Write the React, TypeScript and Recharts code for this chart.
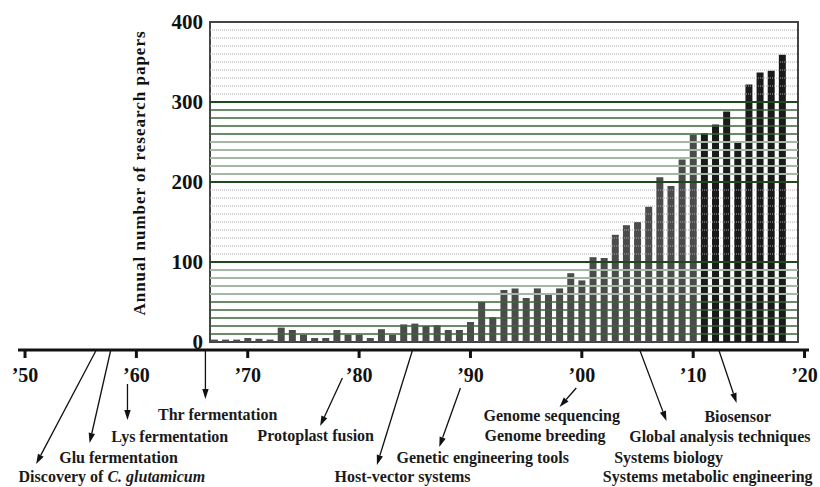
import {
  ComposedChart,
  Bar,
  Cell,
  XAxis,
  YAxis,
  ReferenceLine,
  ReferenceArea,
  ReferenceDot,
} from "recharts";

// publication years and annual number of papers
const years = [
  1967, 1968, 1969, 1970, 1971, 1972, 1973, 1974, 1975, 1976,
  1977, 1978, 1979, 1980, 1981, 1982, 1983, 1984, 1985, 1986,
  1987, 1988, 1989, 1990, 1991, 1992, 1993, 1994, 1995, 1996,
  1997, 1998, 1999, 2000, 2001, 2002, 2003, 2004, 2005, 2006,
  2007, 2008, 2009, 2010, 2011, 2012, 2013, 2014, 2015, 2016,
  2017, 2018,
];
const papers = [
  3, 3, 3, 5, 4, 3, 18, 15, 9, 5,
  5, 15, 9, 9, 5, 16, 9, 22, 23, 20,
  21, 15, 15, 25, 50, 31, 65, 67, 55, 67,
  59, 67, 86, 77, 106, 105, 134, 146, 150, 169,
  206, 195, 228, 259, 261, 272, 288, 251, 322, 337,
  339, 359,
];

const yTicks = [0, 100, 200, 300, 400];
const timelineTicks = [1950, 1960, 1970, 1980, 1990, 2000, 2010, 2020];

const majorGrid = [100, 200, 300];
const darkGrid = [10, 20, 30, 40, 50, 260, 270, 280, 290];
const paleGrid = [60, 70, 80, 90, 210, 220, 230, 240, 250];
const dottedGrid = [
  110, 120, 130, 140, 150, 160, 170, 180, 190,
  310, 320, 330, 340, 350, 360, 370, 380, 390,
];

// milestones: label position (year, depth below the time axis)
const milestones = [
  { parts: [{ t: "Discovery of " }, { t: "C. glutamicum", it: true }], x: 1957.8, y: 126.5 },
  { parts: [{ t: "Glu fermentation" }], x: 1958.4, y: 107 },
  { parts: [{ t: "Lys fermentation" }], x: 1963.0, y: 86 },
  { parts: [{ t: "Thr fermentation" }], x: 1967.3, y: 64 },
  { parts: [{ t: "Protoplast fusion" }], x: 1976.1, y: 85 },
  { parts: [{ t: "Host-vector systems" }], x: 1983.9, y: 126.5 },
  { parts: [{ t: "Genetic engineering tools" }], x: 1991.1, y: 107 },
  { parts: [{ t: "Genome sequencing" }], x: 1997.3, y: 65 },
  { parts: [{ t: "Genome breeding" }], x: 1996.7, y: 85 },
  { parts: [{ t: "Biosensor" }], x: 2014.0, y: 66 },
  { parts: [{ t: "Global analysis techniques" }], x: 2012.4, y: 86 },
  { parts: [{ t: "Systems biology" }], x: 2007.8, y: 107 },
  { parts: [{ t: "Systems metabolic engineering" }], x: 2011.3, y: 126.5 },
];

const arrows = [
  { x1: 1956.4, y1: 0, x2: 1951.0, y2: 114 },
  { x1: 1957.7, y1: 0, x2: 1955.8, y2: 93 },
  { x1: 1959.2, y1: 34, x2: 1959.2, y2: 70 },
  { x1: 1966.2, y1: 1, x2: 1966.2, y2: 49 },
  { x1: 1978.5, y1: 28, x2: 1976.5, y2: 76 },
  { x1: 1984.8, y1: 0, x2: 1981.6, y2: 115 },
  { x1: 1989.1, y1: 38, x2: 1987.2, y2: 97 },
  { x1: 1999.5, y1: 38, x2: 1998.0, y2: 57 },
  { x1: 2005.2, y1: 0, x2: 2007.6, y2: 71 },
  { x1: 2012.3, y1: 0, x2: 2013.9, y2: 53 },
];

const barData = years.map((year, i) => ({ year, papers: papers[i] }));
const timelineData = timelineTicks.map((year) => ({ year }));

const FONT = "'Liberation Serif', 'Times New Roman', serif";
const W = 820;
const H = 487;

const frameX: [number, number] = [1966.6, 2019.4];
const timeX: [number, number] = [1949.37, 2020.4];

const Arrow = (p: any) => {
  const { x1, y1, x2, y2 } = p;
  const ang = Math.atan2(y2 - y1, x2 - x1);
  const len = 10;
  const half = 3.2;
  const bx = x2 - len * Math.cos(ang);
  const by = y2 - len * Math.sin(ang);
  const px = -Math.sin(ang) * half;
  const py = Math.cos(ang) * half;
  return (
    <g>
      <line x1={x1} y1={y1} x2={bx} y2={by} stroke="#111" strokeWidth={1.3} />
      <polygon
        points={`${x2},${y2} ${bx + px},${by + py} ${bx - px},${by - py}`}
        fill="#111"
      />
    </g>
  );
};

const renderTitle = (props: any) => {
  const { viewBox } = props;
  const cx = viewBox.x - 11;
  const cy = viewBox.y + viewBox.height / 2 - 9;
  return (
    <text
      x={cx}
      y={cy}
      transform={`rotate(-90, ${cx}, ${cy})`}
      textAnchor="middle"
      dy="0.35em"
      fontSize={17}
      fontWeight="bold"
      letterSpacing={1}
      fill="#111"
    >
      Annual number of research papers
    </text>
  );
};

const layer: React.CSSProperties = { position: "absolute", left: 0, top: 0 };

export default function App() {
  return (
    <div
      style={{
        position: "absolute",
        left: 0,
        top: 0,
        width: W,
        height: H,
        background: "#fff",
        fontFamily: FONT,
      }}
    >
      <div style={layer}>
        <ComposedChart
          width={W}
          height={H}
          data={barData}
          margin={{ top: 22, right: 22, bottom: 145, left: 150 }}
        >
          <XAxis type="number" dataKey="year" domain={frameX} hide allowDataOverflow />
          <YAxis
            width={60}
            domain={[0, 400]}
            ticks={yTicks}
            axisLine={false}
            tickLine={false}
            tickSize={0}
            tickMargin={7}
            tick={{ fill: "#111", fontSize: 21, fontWeight: "bold" }}
            label={renderTitle}
          />
          {dottedGrid.map((v) => (
            <ReferenceLine key={"d" + v} y={v} stroke="#a8a8a8" strokeWidth={1} strokeDasharray="1 1" />
          ))}
          {paleGrid.map((v) => (
            <ReferenceLine key={"p" + v} y={v} stroke="#a3b8a3" strokeWidth={2} />
          ))}
          {darkGrid.map((v) => (
            <ReferenceLine key={"k" + v} y={v} stroke="#3a643a" strokeWidth={1.3} />
          ))}
          {majorGrid.map((v) => (
            <ReferenceLine key={"m" + v} y={v} stroke="#1d4a1d" strokeWidth={1.8} />
          ))}
          <Bar dataKey="papers" barSize={7} isAnimationActive={false}>
            {barData.map((d) => (
              <Cell key={d.year} fill={d.year > 2010 ? "#1a1a1a" : "#4b4b4b"} />
            ))}
          </Bar>
          <ReferenceArea
            x1={frameX[0]}
            x2={frameX[1]}
            y1={0}
            y2={400}
            fill="none"
            fillOpacity={0}
            stroke="#444"
            strokeWidth={2}
          />
        </ComposedChart>
      </div>

      <div style={layer}>
        <ComposedChart
          width={W}
          height={H}
          data={timelineData}
          margin={{ top: 340, right: 11, bottom: 0, left: 18 }}
        >
          <XAxis
            type="number"
            dataKey="year"
            domain={timeX}
            ticks={timelineTicks}
            interval={0}
            allowDataOverflow
            height={137}
            axisLine={{ stroke: "#111", strokeWidth: 3 }}
            tickLine={{ stroke: "#111", strokeWidth: 3 }}
            tickSize={8}
            tickMargin={10}
            tick={{ fill: "#111", fontSize: 20, fontWeight: "bold" }}
            tickFormatter={(y: number) => "\u2019" + String(y).slice(2)}
          />
          <YAxis hide domain={[0, 1]} />
        </ComposedChart>
      </div>

      <div style={layer}>
        <ComposedChart
          width={W}
          height={H}
          data={timelineData}
          margin={{ top: 350, right: 11, bottom: 0, left: 18 }}
        >
          <XAxis type="number" dataKey="year" domain={timeX} hide allowDataOverflow />
          <YAxis type="number" domain={[0, 137]} reversed hide allowDataOverflow />
          {arrows.map((a, i) => (
            <ReferenceLine
              key={"a" + i}
              segment={[
                { x: a.x1, y: a.y1 },
                { x: a.x2, y: a.y2 },
              ]}
              ifOverflow="visible"
              shape={Arrow}
            />
          ))}
          {milestones.map((m, i) => (
            <ReferenceDot
              key={"t" + i}
              x={m.x}
              y={m.y}
              r={0}
              ifOverflow="visible"
              shape={(p: any) => (
                <text
                  x={p.cx}
                  y={p.cy}
                  dy="0.35em"
                  textAnchor="middle"
                  fontSize={16}
                  fontWeight="bold"
                  fill="#1a1a1a"
                >
                  {m.parts.map((s: any, j: number) => (
                    <tspan key={j} fontStyle={s.it ? "italic" : "normal"}>
                      {s.t}
                    </tspan>
                  ))}
                </text>
              )}
            />
          ))}
        </ComposedChart>
      </div>
    </div>
  );
}
